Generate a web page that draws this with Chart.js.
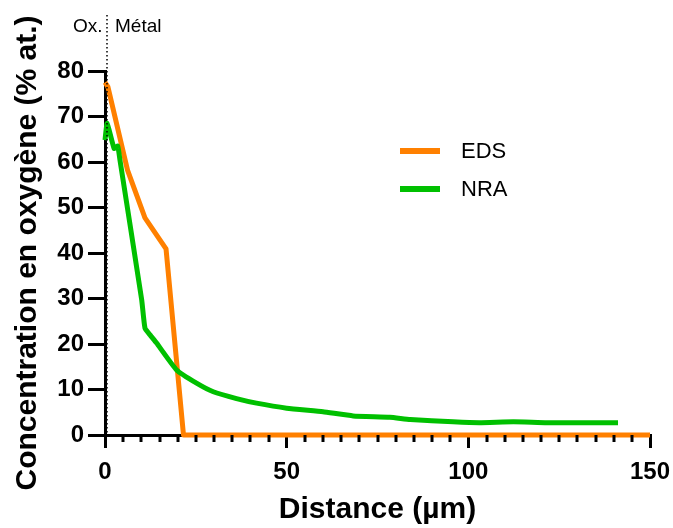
<!DOCTYPE html>
<html lang="fr">
<head>
  <meta charset="UTF-8">
  <title>Concentration en oxygène</title>
  <script src="https://cdn.jsdelivr.net/npm/chart.js"></script>
  <style>
    body { margin: 0; background: #fff; font-family: 'Liberation Sans', Arial, sans-serif; }
    .wrap { position: relative; width: 673px; height: 528px; }
    .lbl { position: absolute; font-size: 19px; color: #000; line-height: 1; }
    .legend { position: absolute; left: 400px; font-size: 22px; color: #000; line-height: 1; }
    .legend span.sw { position: absolute; left: 0; width: 40px; height: 6px; }
    .legend span.tx { position: absolute; left: 61px; top: -8px; white-space: nowrap; }
  </style>
</head>
<body>
  <div class="wrap">
    <canvas id="chart" width="673" height="528"></canvas>
    <div class="lbl" style="left:73px; top:16px;">Ox.</div>
    <div class="lbl" style="left:115px; top:16px;">Métal</div>
    <div class="legend" style="top:148px;"><span class="sw" style="background:#FF8000"></span><span class="tx">EDS</span></div>
    <div class="legend" style="top:186px;"><span class="sw" style="background:#00C000"></span><span class="tx">NRA</span></div>
  </div>

  <script>
    // valeurs
    const edsX = [0, 0.8, 6.2, 11, 16.8, 21.6, 150];
    const edsY = [77.5, 76.5, 58.2, 47.7, 40.9, 0, 0];
    const nraX = [0, 0.6, 2.5, 3.5, 4.1, 10.1, 11, 12.4, 14.2, 19.7, 25.2, 29.8, 36.2, 41.7, 50, 60, 68.3, 78.4, 84, 95.8, 103, 112.4, 121.6, 141.2];
    const nraY = [64.8, 68.5, 63, 63.5, 60.5, 29.7, 23.5, 22, 20.2, 14.3, 11.4, 9.5, 8.0, 7.0, 5.9, 5.1, 4.2, 3.9, 3.4, 2.9, 2.7, 2.9, 2.7, 2.7];
    const xTicks = [0, 50, 100, 150];
    const yTicks = [0, 10, 20, 30, 40, 50, 60, 70, 80];

    function pts(xs, ys) {
      return xs.map((x, i) => ({ x: x, y: ys[i] }));
    }

    const extras = {
      id: 'extras',
      afterDraw(chart) {
        const c = chart.ctx;
        const xs = chart.scales.x;
        const ys = chart.scales.y;
        const bottom = ys.getPixelForValue(0);
        c.save();
        // petits traits mineurs tous les 5 µm
        c.strokeStyle = '#000';
        c.lineWidth = 3;
        for (let v = 5; v < 150; v += 5) {
          if (v % 50 === 0) continue;
          const px = Math.round(xs.getPixelForValue(v));
          c.beginPath();
          c.moveTo(px, bottom);
          c.lineTo(px, bottom + 7);
          c.stroke();
        }
        // séparation oxyde / métal
        const x0 = xs.getPixelForValue(0) + 2;
        c.lineWidth = 1.5;
        c.setLineDash([1.5, 2.5]);
        c.beginPath();
        c.moveTo(x0, 15);
        c.lineTo(x0, bottom);
        c.stroke();
        c.restore();
      }
    };

    const tickFont = { family: 'Liberation Sans', size: 24, weight: 'bold' };
    const titleFont = { family: 'Liberation Sans', size: 30, weight: 'bold' };

    new Chart(document.getElementById('chart'), {
      type: 'line',
      data: {
        datasets: [
          {
            label: 'NRA',
            data: pts(nraX, nraY),
            borderColor: '#00C000',
            borderWidth: 5,
            pointRadius: 0,
            tension: 0.15,
            borderJoinStyle: 'round',
            clip: false,
            order: 0
          },
          {
            label: 'EDS',
            data: pts(edsX, edsY),
            borderColor: '#FF8000',
            borderWidth: 5,
            pointRadius: 0,
            tension: 0,
            borderJoinStyle: 'round',
            clip: false,
            order: 1
          }
        ]
      },
      options: {
        responsive: false,
        animation: false,
        layout: { padding: { top: 71, right: 23, left: 0, bottom: 0 } },
        plugins: { legend: { display: false }, tooltip: { enabled: false } },
        scales: {
          x: {
            type: 'linear',
            min: 0,
            max: 150,
            afterFit(s) { s.height = 93; s.paddingRight = 0; s.paddingLeft = 0; },
            afterBuildTicks(s) { s.ticks = xTicks.map(v => ({ value: v })); },
            grid: { drawOnChartArea: false, drawTicks: true, tickLength: 13, color: '#000', lineWidth: 3 },
            border: { display: true, color: '#000', width: 3 },
            ticks: { color: '#000', font: tickFont, padding: 10, maxRotation: 0 },
            title: { display: true, text: 'Distance (µm)', color: '#000', font: titleFont, padding: { top: 0, bottom: 0 } }
          },
          y: {
            min: 0,
            max: 80,
            afterFit(s) { s.width = 105; s.paddingTop = 0; s.paddingBottom = 0; },
            afterBuildTicks(s) { s.ticks = yTicks.map(v => ({ value: v })); },
            grid: { drawOnChartArea: false, drawTicks: true, tickLength: 17, color: '#000', lineWidth: 3 },
            border: { display: true, color: '#000', width: 3 },
            ticks: { color: '#000', font: tickFont, padding: 4 },
            title: { display: true, text: 'Concentration en oxygène (% at.)', color: '#000', font: titleFont, padding: { top: 10, bottom: 0 } }
          }
        }
      },
      plugins: [extras]
    });
  </script>
</body>
</html>
